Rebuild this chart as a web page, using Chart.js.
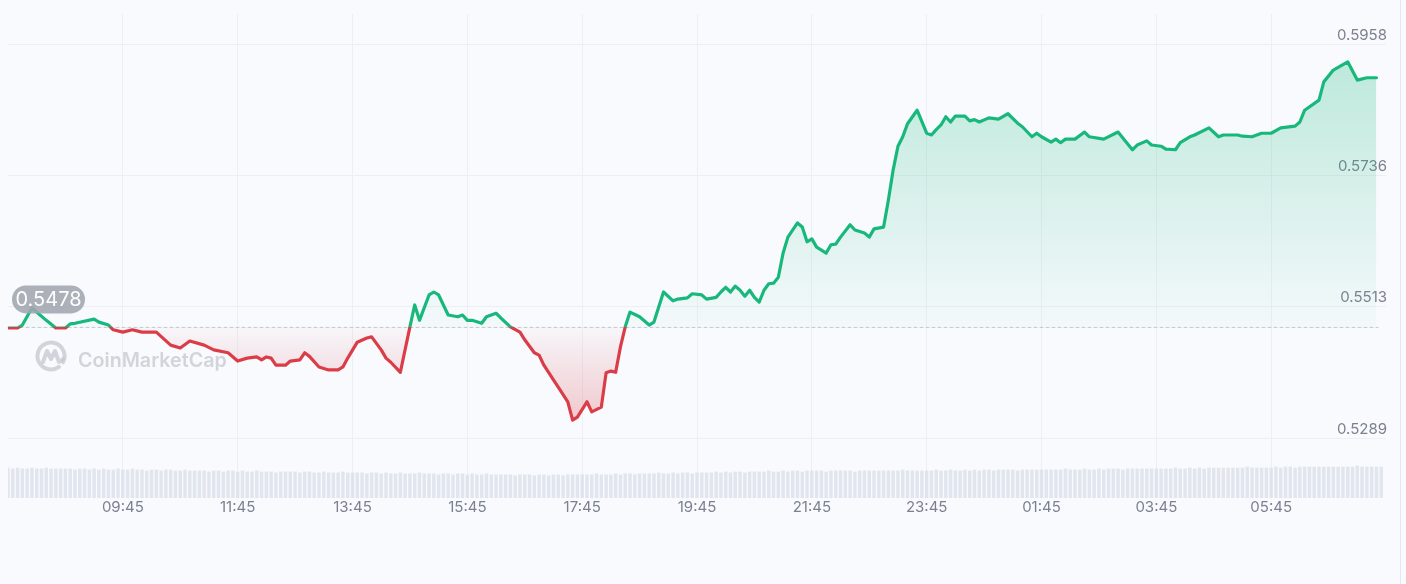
<!DOCTYPE html>
<html>
<head>
<meta charset="utf-8">
<script src="https://cdn.jsdelivr.net/npm/chart.js@4.4.1/dist/chart.umd.min.js"></script>
<style>
  html, body { margin: 0; padding: 0; background: #f8fafd; }
  #wrap { position: absolute; left: 0; top: 0; width: 1400px; height: 530px; }
  #edge { position: absolute; left: 1400px; top: 0; width: 1px; height: 584px; background: #e4e7ed; }
</style>
</head>
<body>
<div id="wrap"><canvas id="chart"></canvas></div>
<div id="edge"></div>
<script>
// Price samples (time of day, USD)
const times = [
  "07:45","07:55","08:00","08:10","08:25","08:35","08:45","08:50","08:55","09:15",
  "09:20","09:30","09:35","09:45","09:55","10:05","10:20","10:35","10:45","10:55",
  "11:10","11:20","11:35","11:45","11:55","12:05","12:10","12:15","12:20","12:25",
  "12:35","12:40","12:50","12:55","13:00","13:10","13:20","13:30","13:35","13:40",
  "13:50","14:00","14:05","14:15","14:20","14:25","14:35","14:45","14:50","14:55",
  "15:05","15:10","15:15","15:25","15:35","15:40","15:45","15:50","16:00","16:05",
  "16:15","16:20","16:30","16:40","16:45","16:55","17:00","17:05","17:15","17:20",
  "17:30","17:35","17:40","17:50","17:55","18:05","18:10","18:15","18:20","18:25",
  "18:30","18:35","18:45","18:55","19:00","19:10","19:20","19:25","19:35","19:40",
  "19:50","19:55","20:05","20:10","20:15","20:20","20:25","20:30","20:35","20:40",
  "20:45","20:50","20:55","21:00","21:05","21:10","21:15","21:20","21:30","21:35",
  "21:40","21:45","21:50","22:00","22:05","22:10","22:15","22:25","22:30","22:40",
  "22:45","22:50","23:00","23:05","23:10","23:15","23:20","23:25","23:35","23:45",
  "23:50","23:55","00:00","00:05","00:10","00:15","00:25","00:30","00:35","00:40",
  "00:50","01:00","01:10","01:20","01:25","01:35","01:40","01:45","01:55","02:00",
  "02:05","02:10","02:20","02:30","02:35","02:50","03:05","03:10","03:20","03:25",
  "03:35","03:40","03:50","03:55","04:05","04:10","04:20","04:25","04:40","04:50",
  "04:55","05:10","05:15","05:25","05:35","05:45","05:55","06:10","06:15","06:20",
  "06:35","06:40","06:50","07:05","07:15","07:25","07:35"
];
const prices = [
  0.5477,0.5477,0.5482,0.5511,0.5490,0.5477,0.5477,0.5484,0.5485,0.5492,
  0.5487,0.5482,0.5474,0.5470,0.5474,0.5470,0.5470,0.5448,0.5443,0.5455,
  0.5448,0.5440,0.5435,0.5421,0.5426,0.5428,0.5423,0.5428,0.5426,0.5414,
  0.5414,0.5421,0.5423,0.5435,0.5429,0.5411,0.5406,0.5406,0.5411,0.5426,
  0.5453,0.5460,0.5462,0.5440,0.5426,0.5419,0.5402,0.5479,0.5516,0.5490,
  0.5533,0.5538,0.5533,0.5499,0.5496,0.5499,0.5490,0.5490,0.5485,0.5496,
  0.5502,0.5494,0.5479,0.5470,0.5457,0.5435,0.5431,0.5414,0.5389,0.5377,
  0.5352,0.5321,0.5326,0.5352,0.5335,0.5343,0.5401,0.5404,0.5402,0.5445,
  0.5479,0.5504,0.5496,0.5482,0.5487,0.5538,0.5523,0.5526,0.5528,0.5535,
  0.5533,0.5526,0.5529,0.5538,0.5546,0.5538,0.5548,0.5541,0.5531,0.5541,
  0.5529,0.5521,0.5541,0.5552,0.5553,0.5563,0.5604,0.5631,0.5655,0.5648,
  0.5623,0.5628,0.5614,0.5604,0.5618,0.5619,0.5631,0.5652,0.5643,0.5638,
  0.5631,0.5645,0.5648,0.5694,0.5745,0.5785,0.5801,0.5823,0.5846,0.5807,
  0.5804,0.5813,0.5821,0.5835,0.5826,0.5836,0.5836,0.5828,0.5830,0.5826,
  0.5833,0.5831,0.5840,0.5824,0.5818,0.5801,0.5807,0.5801,0.5792,0.5797,
  0.5791,0.5797,0.5797,0.5809,0.5801,0.5797,0.5809,0.5799,0.5779,0.5787,
  0.5794,0.5787,0.5785,0.5780,0.5779,0.5791,0.5801,0.5804,0.5816,0.5801,
  0.5804,0.5804,0.5802,0.5801,0.5807,0.5807,0.5816,0.5819,0.5826,0.5846,
  0.5863,0.5894,0.5914,0.5928,0.5897,0.5901,0.5901
];

// 5-minute volume bars from 07:45, one row per hour (relative units)
const volumes = [
  31,30,31,30,30,31,30,30,31,30,30,30,
  30,30,29,30,30,29,30,29,30,29,29,30,
  29,29,30,29,29,28,29,29,28,29,29,28,
  28,29,28,28,28,28,27,28,28,27,28,28,
  27,28,27,27,28,27,27,27,26,27,27,27,
  27,26,27,27,26,26,27,26,26,26,27,26,
  26,26,26,25,26,26,25,26,25,25,26,25,
  25,25,26,25,25,25,24,25,25,24,25,25,
  24,25,24,24,25,24,24,24,24,24,23,24,
  24,24,23,24,24,23,24,24,23,24,24,24,
  24,24,24,25,24,24,24,25,24,25,25,24,
  25,25,25,25,26,25,25,26,25,26,26,25,
  26,26,26,26,27,26,27,26,27,27,26,27,
  27,27,27,28,27,27,28,27,28,28,27,28,
  28,28,28,27,28,28,28,28,28,27,28,28,
  28,28,28,28,28,28,28,29,28,28,28,28,
  28,28,29,28,28,29,28,28,29,28,29,28,
  29,29,28,29,29,29,29,28,29,29,29,29,
  29,29,29,29,29,30,29,29,29,30,29,29,
  30,29,30,30,30,29,30,30,30,30,30,30,
  30,30,30,30,31,30,30,31,30,31,30,31,
  31,31,31,31,31,31,31,32,31,31,31,31,
  31,32,31,32,32,31,32,32,32,32,32,32,
  32,32,32,32,32,32,33,32,32,32,32,32
];

const xTickLabels = ["09:45","11:45","13:45","15:45","17:45","19:45","21:45","23:45","01:45","03:45","05:45"];
const yTickValues = [0.5289, 0.5513, 0.5736, 0.5958];
const openPrice = 0.5478;

const UP = 'rgb(24,184,124)';
const DOWN = 'rgb(218,61,71)';
const FONT = 'Inter';

// minutes since 07:45 (the window wraps over midnight)
function offsetOf(t) {
    const [h, m] = t.split(':').map(Number);
    let v = h * 60 + m - (7 * 60 + 45);
    if (v < 0) v += 1440;
    return v;
}
function labelOf(v) {
    const m = (v + 7 * 60 + 45) % 1440;
    return String(Math.floor(m / 60)).padStart(2, '0') + ':' + String(m % 60).padStart(2, '0');
}

const priceData = times.map((t, i) => ({ x: offsetOf(t), y: prices[i] }));
const volumeData = volumes.map((v, i) => ({ x: i * 5, y: v }));

// stroke: green above the open price, red below
function splitStroke(context) {
    const chart = context.chart;
    const area = chart.chartArea;
    if (!area) return UP;
    const yb = chart.scales.y.getPixelForValue(openPrice);
    const f = Math.min(Math.max((yb - area.top) / (area.bottom - area.top), 0), 1);
    const g = chart.ctx.createLinearGradient(0, area.top, 0, area.bottom);
    g.addColorStop(0, UP);
    g.addColorStop(f, UP);
    g.addColorStop(f, DOWN);
    g.addColorStop(1, DOWN);
    return g;
}
function fillAbove(context) {
    const chart = context.chart;
    if (!chart.chartArea) return 'rgba(24,184,124,0.15)';
    const y = chart.scales.y;
    const g = chart.ctx.createLinearGradient(0, y.getPixelForValue(Math.max(...prices)), 0, y.getPixelForValue(openPrice));
    g.addColorStop(0, 'rgba(24,184,124,0.26)');
    g.addColorStop(1, 'rgba(24,184,124,0.02)');
    return g;
}
function fillBelow(context) {
    const chart = context.chart;
    if (!chart.chartArea) return 'rgba(218,61,71,0.1)';
    const y = chart.scales.y;
    const g = chart.ctx.createLinearGradient(0, y.getPixelForValue(openPrice), 0, y.getPixelForValue(Math.min(...prices)));
    g.addColorStop(0, 'rgba(218,61,71,0.02)');
    g.addColorStop(1, 'rgba(218,61,71,0.26)');
    return g;
}

// open-price dashed line, watermark and the open-price pill
const decorPlugin = {
    id: 'decor',
    beforeDatasetsDraw(chart) {
        const { ctx, chartArea: a, scales } = chart;
        const yb = scales.y.getPixelForValue(openPrice);
        ctx.save();
        // watermark
        const cx = a.left + 43, cy = a.top + 342;
        ctx.strokeStyle = 'rgba(196,200,207,0.75)';
        ctx.lineWidth = 4;
        ctx.lineCap = 'round';
        ctx.lineJoin = 'round';
        ctx.beginPath();
        ctx.arc(cx, cy, 13.5, 0.3 * Math.PI, 2.15 * Math.PI);
        ctx.stroke();
        ctx.beginPath();
        ctx.moveTo(cx - 8, cy + 6);
        ctx.lineTo(cx - 4, cy - 5);
        ctx.lineTo(cx, cy + 3);
        ctx.lineTo(cx + 4, cy - 5);
        ctx.lineTo(cx + 8, cy + 6);
        ctx.lineTo(cx + 12, cy + 3);
        ctx.stroke();
        let size = 24;
        ctx.font = '600 ' + size + 'px ' + FONT;
        size = size * 149 / ctx.measureText('CoinMarketCap').width;
        ctx.font = '600 ' + size.toFixed(1) + 'px ' + FONT;
        ctx.fillStyle = 'rgba(196,200,207,0.75)';
        ctx.textBaseline = 'alphabetic';
        ctx.textAlign = 'left';
        ctx.fillText('CoinMarketCap', a.left + 70, a.top + 353);
        // dashed open line
        ctx.strokeStyle = '#c3c7cf';
        ctx.lineWidth = 1;
        ctx.setLineDash([3, 3]);
        ctx.beginPath();
        ctx.moveTo(a.left, yb);
        ctx.lineTo(a.right - 8, yb);
        ctx.stroke();
        ctx.restore();
    },
    afterDatasetsDraw(chart) {
        const { ctx, chartArea: a, scales } = chart;
        const yb = scales.y.getPixelForValue(openPrice);
        ctx.save();
        ctx.fillStyle = 'rgba(160,165,175,0.88)';
        ctx.beginPath();
        ctx.roundRect(a.left + 4, yb - 42, 73, 28, 14);
        ctx.fill();
        ctx.fillStyle = '#ffffff';
        ctx.font = '20px ' + FONT;
        ctx.textAlign = 'center';
        ctx.textBaseline = 'middle';
        ctx.fillText(openPrice.toFixed(4), a.left + 40.5, yb - 27);
        ctx.restore();
    }
};

const ctx = document.getElementById('chart').getContext('2d');
const chart = new Chart(ctx, {
    data: {
        datasets: [
            {
                type: 'line',
                data: priceData,
                borderColor: splitStroke,
                borderWidth: 3.2,
                borderJoinStyle: 'round',
                borderCapStyle: 'round',
                pointRadius: 0,
                tension: 0,
                fill: { target: { value: openPrice }, above: fillAbove, below: fillBelow },
                yAxisID: 'y',
                order: 1
            },
            {
                type: 'bar',
                data: volumeData,
                backgroundColor: 'rgba(218,221,231,0.75)',
                barPercentage: 0.72,
                categoryPercentage: 1,
                yAxisID: 'yv',
                order: 2
            }
        ]
    },
    options: {
        responsive: true,
        maintainAspectRatio: false,
        animation: false,
        layout: { padding: { left: 8, right: 12, top: 14, bottom: 14 } },
        plugins: { legend: { display: false }, tooltip: { enabled: false } },
        scales: {
            x: {
                type: 'linear',
                min: 0,
                max: 1440,
                offset: false,
                afterBuildTicks: (scale) => { scale.ticks = xTickLabels.map(t => ({ value: offsetOf(t) })); },
                ticks: {
                    autoSkip: false,
                    maxRotation: 0,
                    padding: 0,
                    color: '#7b8190',
                    font: { family: FONT, size: 15 },
                    callback: (v) => labelOf(v)
                },
                grid: { color: '#eceff3', drawTicks: false, offset: false },
                border: { display: false }
            },
            y: {
                position: 'right',
                min: 0.5189,
                max: 0.6009,
                afterBuildTicks: (scale) => { scale.ticks = yTickValues.map(v => ({ value: v })); },
                ticks: {
                    mirror: true,
                    padding: 1,
                    labelOffset: -9,
                    color: '#7b8190',
                    font: { family: FONT, size: 15 },
                    callback: (v) => v.toFixed(4)
                },
                grid: { color: '#eceff3', drawTicks: false },
                border: { display: false }
            },
            yv: {
                display: false,
                min: 0,
                max: Math.max(...volumes) * 15
            }
        }
    },
    plugins: [decorPlugin]
});
</script>
</body>
</html>
